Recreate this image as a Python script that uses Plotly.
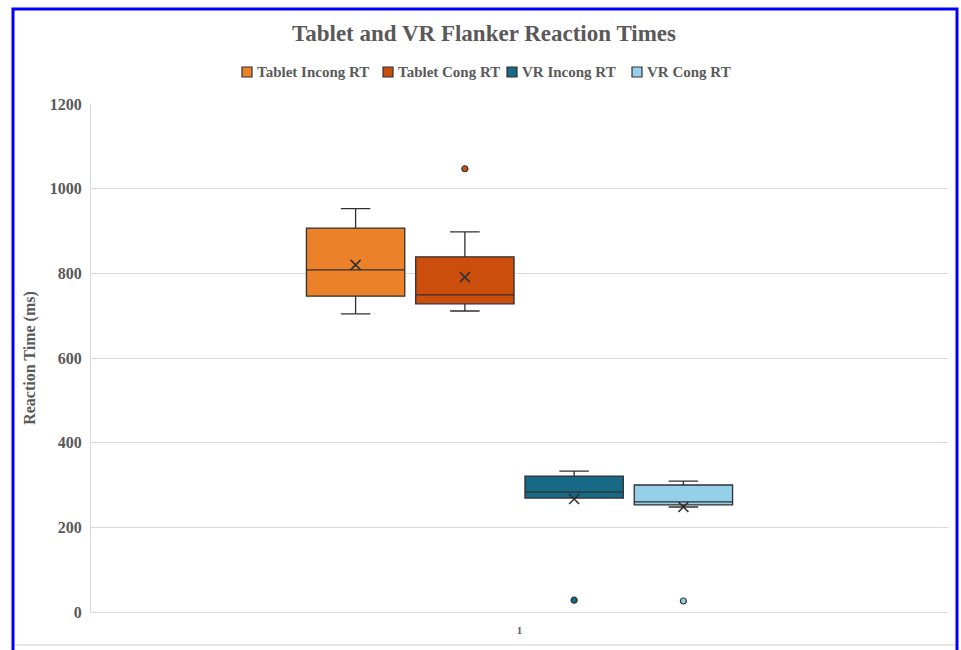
import plotly.graph_objects as go

# ---- data ----
series = ["Tablet Incong RT", "Tablet Cong RT", "VR Incong RT", "VR Cong RT"]
colors = ["#EB8128", "#CB4E0C", "#176A86", "#96CFEA"]
category = ["1"]
lower_whisker = [704, 711, 269, 248]
q1_vals = [746, 728, 269, 253]
median_vals = [808, 749, 283, 260]
q3_vals = [907, 839, 321, 300]
upper_whisker = [953, 898, 333, 309]
mean_vals = [820, 791, 267, 248]
outliers = [[], [1047], [28], [26]]

y_ticks = [0, 200, 400, 600, 800, 1000, 1200]

FONT = "Liberation Serif, Times New Roman, serif"
GRAY = "#595959"
EDGE = "#303030"

fig = go.Figure()

for i, name in enumerate(series):
    fig.add_trace(go.Box(
        name=name,
        x=category,
        q1=[q1_vals[i]], median=[median_vals[i]], q3=[q3_vals[i]],
        lowerfence=[lower_whisker[i]], upperfence=[upper_whisker[i]],
        fillcolor=colors[i],
        line=dict(color=EDGE, width=1.3),
        whiskerwidth=0.3,
        boxpoints=False,
        offsetgroup=str(i),
        showlegend=False,
    ))

# mean markers and outliers, grouped to sit on the boxes
for i, name in enumerate(series):
    ys = [mean_vals[i]] + outliers[i]
    symbols = ["x-thin-open"] + ["circle"] * len(outliers[i])
    mcolors = [EDGE] + [colors[i]] * len(outliers[i])
    sizes = [10] + [6] * len(outliers[i])
    lwidths = [1.6] + [1.2] * len(outliers[i])
    fig.add_trace(go.Scatter(
        x=category * len(ys), y=ys, mode="markers",
        name=name, showlegend=False, offsetgroup=str(i),
        marker=dict(symbol=symbols, color=mcolors, size=sizes, opacity=1,
                    line=dict(color=EDGE, width=lwidths)),
        hoverinfo="y",
    ))

W, H = 961, 650
L, R, T, B = 91, 13, 104, 38
pw, ph = W - L - R, H - T - B

def px_x(p):
    return (p - L) / pw

def px_y(p):
    return (H - B - p) / ph

fig.update_layout(
    width=W, height=H,
    margin=dict(l=L, r=R, t=T, b=B),
    paper_bgcolor="white", plot_bgcolor="white",
    boxmode="group", boxgap=0.49, boxgroupgap=0.1,
    scattermode="group", scattergap=0.49,
    title=dict(text="<b>Tablet and VR Flanker Reaction Times</b>",
               x=484 / W, xanchor="center",
               y=1 - 33 / H, yanchor="middle",
               font=dict(family=FONT, size=23, color=GRAY)),
    font=dict(family=FONT, color=GRAY),
    showlegend=False,
    yaxis=dict(range=[0, 1200], tickvals=y_ticks, showgrid=True,
               gridcolor="#D9D9D9", gridwidth=1, zeroline=False,
               showline=True, linecolor="#D9D9D9", linewidth=1,
               tickfont=dict(family=FONT, size=16, color=GRAY, weight="bold"),
               ticks="", ticklabelstandoff=5,
               title=dict(text="<b>Reaction Time (ms)</b>", standoff=10,
                          font=dict(family=FONT, size=16, color=GRAY))),
    xaxis=dict(type="category", showline=True, linecolor="#D9D9D9",
               linewidth=1, showgrid=False, ticks="", ticklabelstandoff=8,
               tickfont=dict(family=FONT, size=11, color=GRAY, weight="bold")),
)

# legend drawn as real text with colour keys
legend_left_px = [242, 383, 507, 632]
legend_y_px = 72
key_px = 10
for i, name in enumerate(series):
    x0 = legend_left_px[i]
    fig.add_shape(type="rect", xref="paper", yref="paper",
                  x0=px_x(x0), x1=px_x(x0 + key_px),
                  y0=px_y(legend_y_px + key_px / 2), y1=px_y(legend_y_px - key_px / 2),
                  fillcolor=colors[i], line=dict(color=EDGE, width=1.2))
    fig.add_annotation(xref="paper", yref="paper",
                       x=px_x(x0 + key_px + 3), y=px_y(legend_y_px),
                       xanchor="left", yanchor="middle", showarrow=False,
                       text=f"<b>{name}</b>",
                       font=dict(family=FONT, size=15, color=GRAY))

# blue frame and the bottom chart-area line
fig.add_shape(type="rect", xref="paper", yref="paper",
              x0=px_x(13), x1=px_x(957), y0=px_y(662), y1=px_y(9),
              line=dict(color="#0000FF", width=3), layer="above")
fig.add_shape(type="line", xref="paper", yref="paper",
              x0=px_x(15), x1=px_x(955), y0=px_y(645), y1=px_y(645),
              line=dict(color="#DDDDDD", width=1.5))

fig.write_html(
    "out.html",
    config={"displayModeBar": False},
    post_script="document.body.style.margin='0';document.body.style.overflow='hidden';",
)
